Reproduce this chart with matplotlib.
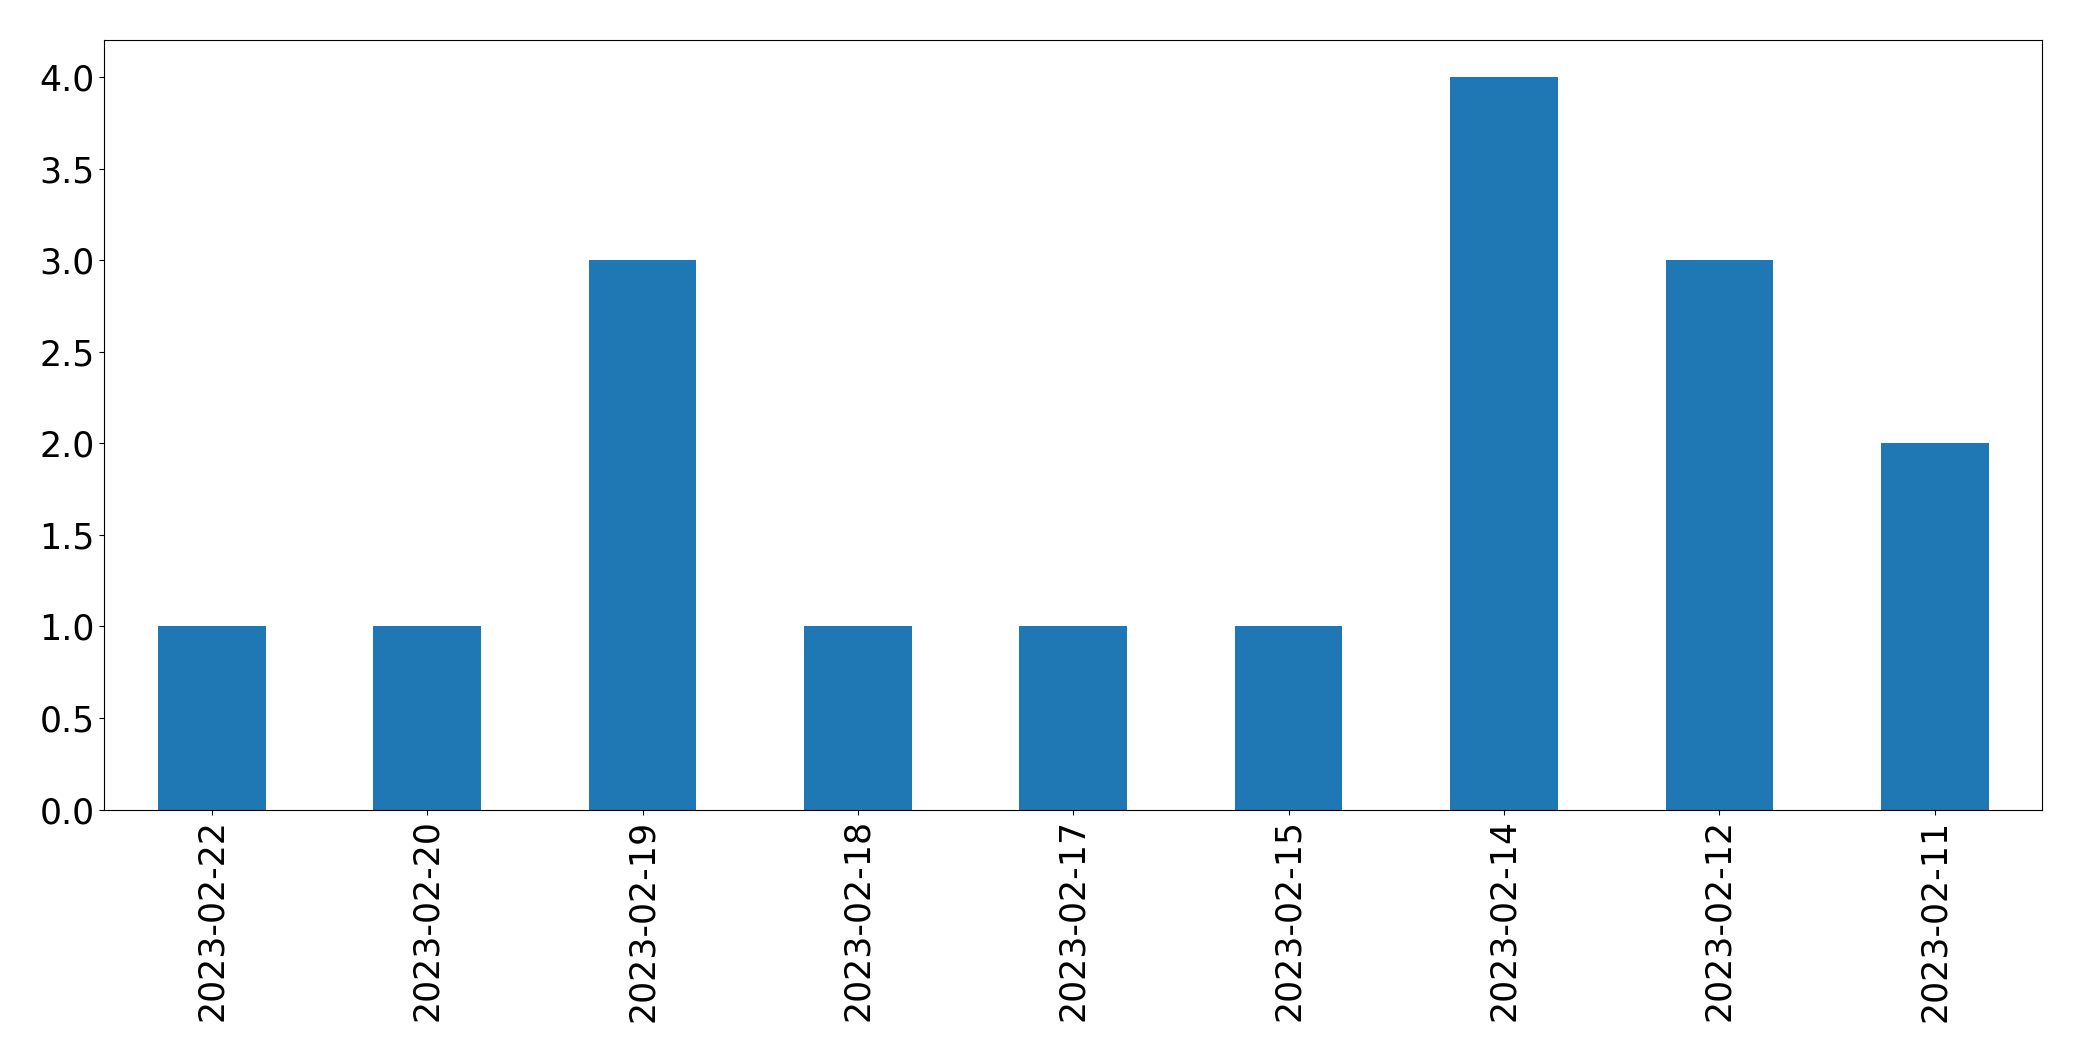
import matplotlib
matplotlib.use("Agg")
import matplotlib.pyplot as plt
import pandas as pd

dates = ["2023-02-22", "2023-02-20", "2023-02-19", "2023-02-18", "2023-02-17",
         "2023-02-15", "2023-02-14", "2023-02-12", "2023-02-11"]
counts = [1, 1, 3, 1, 1, 1, 4, 3, 2]

s = pd.Series(counts, index=dates)

fig = plt.figure(figsize=(20.82, 10.61), dpi=100)
ax = fig.add_subplot(111)
s.plot(kind="bar", ax=ax, color="#1f77b4")
ax.tick_params(axis="both", labelsize=25)
fig.subplots_adjust(left=0.050, right=0.981, top=0.962, bottom=0.237)
fig.savefig("out.png", dpi=100)
